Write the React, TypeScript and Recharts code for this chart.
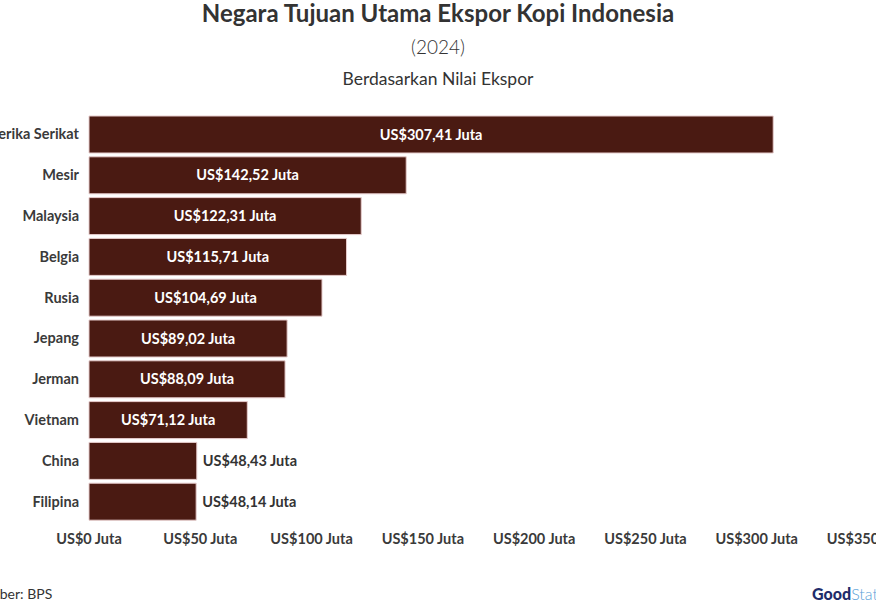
import { BarChart, Bar, XAxis, YAxis, LabelList } from 'recharts'

const countries = ['Amerika Serikat', 'Mesir', 'Malaysia', 'Belgia', 'Rusia', 'Jepang', 'Jerman', 'Vietnam', 'China', 'Filipina']
const exportValues = [307.41, 142.52, 122.31, 115.71, 104.69, 89.02, 88.09, 71.12, 48.43, 48.14]
const xTicks = [0, 50, 100, 150, 200, 250, 300, 350]

const data = countries.map((name, i) => ({ name, value: exportValues[i] }))

const FONT = 'Lato, "Open Sans", sans-serif'
const BAR_COLOR = '#4a1a12'

const fmt = (v: number) => `US$${v.toFixed(2).replace('.', ',')} Juta`

const BarLabel = (props: any) => {
  const { x, y, width, height, value } = props
  const inside = width > 130
  return (
    <text
      x={inside ? x + width / 2 : x + width + 6}
      y={y + height / 2}
      dy="0.35em"
      textAnchor={inside ? 'middle' : 'start'}
      fill={inside ? '#ffffff' : '#333333'}
      fontSize={14.5}
      fontWeight={700}
      fontFamily={FONT}
    >
      {fmt(value)}
    </text>
  )
}

const CountryTick = (props: any) => {
  const { x, y, payload } = props
  return (
    <text x={x} y={y} dy="0.35em" textAnchor="end" fill="#3a3a3a" fontSize={14.5} fontWeight={700} fontFamily={FONT}>
      {payload.value}
    </text>
  )
}

const ValueTick = (props: any) => {
  const { x, y, payload } = props
  return (
    <text x={x} y={y + 14} textAnchor="middle" fill="#3a3a3a" fontSize={14.5} fontWeight={700} fontFamily={FONT}>
      {`US$${payload.value} Juta`}
    </text>
  )
}

export default function App() {
  return (
    <div style={{ position: 'absolute', left: 0, top: 0, width: 876, height: 601, overflow: 'hidden', background: '#fff', fontFamily: FONT }}>
      <div style={{ position: 'absolute', top: 0, width: 876, textAlign: 'center', fontSize: 24, lineHeight: '26px', fontWeight: 700, color: '#333' }}>
        Negara Tujuan Utama Ekspor Kopi Indonesia
      </div>
      <div style={{ position: 'absolute', top: 35, width: 876, textAlign: 'center', fontSize: 19, fontWeight: 300, color: '#333' }}>
        (2024)
      </div>
      <div style={{ position: 'absolute', top: 68, width: 876, textAlign: 'center', fontSize: 17.5, color: '#333' }}>
        Berdasarkan Nilai Ekspor
      </div>
      <div style={{ position: 'absolute', top: 0, left: 0 }}>
        <BarChart
          width={876}
          height={560}
          data={data}
          layout="vertical"
          margin={{ top: 114, right: 8, bottom: 0, left: 0 }}
          barCategoryGap={2}
        >
          <XAxis
            type="number"
            domain={[0, 350]}
            ticks={xTicks}
            interval={0}
            axisLine={false}
            tickLine={false}
            height={38}
            tick={<ValueTick />}
          />
          <YAxis
            type="category"
            dataKey="name"
            width={89}
            axisLine={false}
            tickLine={false}
            tickMargin={4}
            tick={<CountryTick />}
          />
          <Bar dataKey="value" fill={BAR_COLOR} stroke="#e6cccc" strokeWidth={1} isAnimationActive={false}>
            <LabelList dataKey="value" content={BarLabel} />
          </Bar>
        </BarChart>
      </div>
      <div style={{ position: 'absolute', left: -27, top: 585, fontSize: 14, color: '#333' }}>Sumber: BPS</div>
      <div style={{ position: 'absolute', left: 812, top: 584, fontSize: 16, whiteSpace: 'nowrap' }}>
        <span style={{ fontWeight: 900, color: '#1f2d6b' }}>Good</span>
        <span style={{ fontWeight: 300, color: '#5aa0d8' }}>Stats</span>
      </div>
    </div>
  )
}
